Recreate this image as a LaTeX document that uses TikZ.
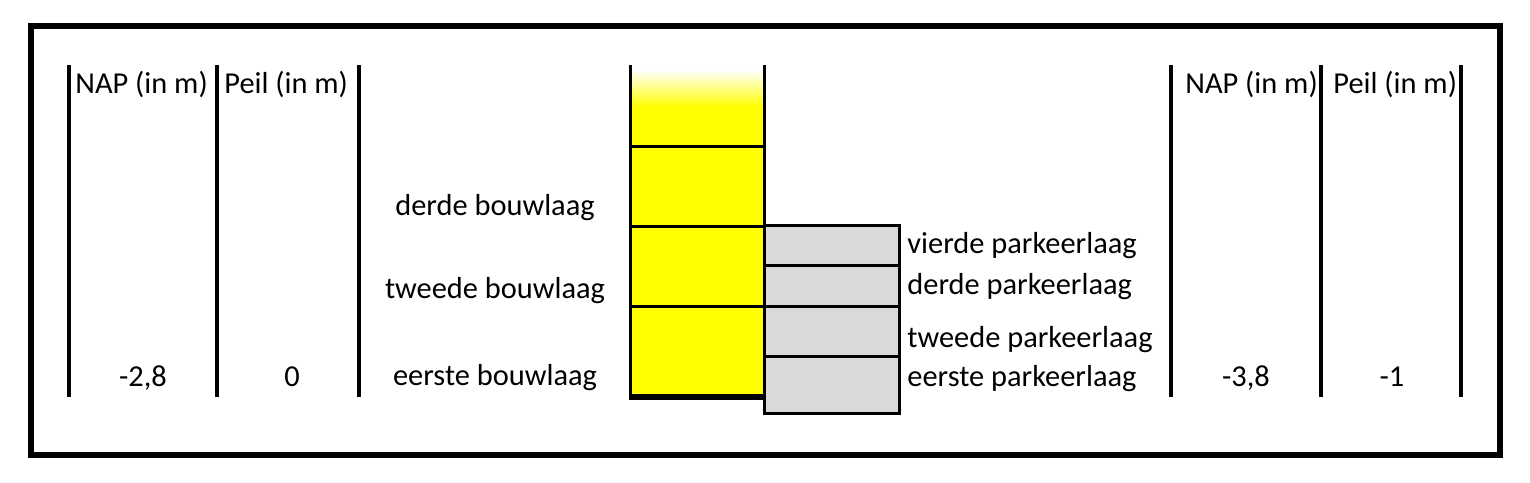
\documentclass[tikz,border=0pt]{standalone}
\usepackage{fontspec}
\setmainfont{Carlito}
\usetikzlibrary{positioning}
\definecolor{bouwgeel}{RGB}{255,255,0}
\definecolor{parkgrijs}{RGB}{217,217,217}

\begin{document}
\begin{tikzpicture}[
  x=0.5pt, y=-0.5pt,
  col/.style={line width=1.6pt},
  wall/.style={line width=1.5pt},
  lab/.style={font=\fontsize{15.2}{18}\selectfont, inner sep=0pt},
]
\useasboundingbox (0,0) rectangle (1530,482);

% --- column lines of the two tables
\def\yTop{65}
\def\yBot{397}
\foreach \x in {69,217,359,1171,1321,1461}
   \draw[col] (\x,\yTop) -- (\x,\yBot);

% --- outer frame
\draw[line width=2.6pt] (31,26) rectangle (1500,455);

% --- building: yellow column with fading top
\def\bL{630}
\def\bR{764}
\shade[top color=white, bottom color=bouwgeel] (\bL,70) rectangle (\bR,107);
\fill[bouwgeel] (\bL,107) rectangle (\bR,398);

% --- parking: grey block
\def\pR{899}
\fill[parkgrijs] (\bR,225) rectangle (\pR,413);

% --- walls and floors
\draw[wall] (\bL,\yTop) -- (\bL,400);
\draw[wall] (\bR,\yTop) -- (\bR,225);
\foreach \y in {146,226,306}
   \draw[wall] (\bL,\y) -- (\bR,\y);
\draw[line width=3pt] (\bL-0.75,397) -- (\bR,397);
\draw[wall] (\bR,225) rectangle (\pR,413);
\foreach \y in {265,306,356}
   \draw[wall] (\bR,\y) -- (\pR,\y);

% --- table headers
\node[lab, anchor=base west] (napL)  at (75,93)   {NAP (in m)};
\node[lab, anchor=base west] (peilL) at (224,93)  {Peil (in m)};
\node[lab, anchor=base west] (napR)  at (1185,93) {NAP (in m)};
\node[lab, anchor=base west] (peilR) at (1333,93) {Peil (in m)};

% --- levels
\node[lab, anchor=base] (napLv)  at (143,386)  {-2,8};
\node[lab, anchor=base] (peilLv) at (292,386)  {0};
\node[lab, anchor=base] (napRv)  at (1246,386) {-3,8};
\node[lab, anchor=base] (peilRv) at (1392,386) {-1};

% --- building floors
\node[lab, anchor=base] (bouw3) at (495,215) {derde bouwlaag};
\node[lab, anchor=base] (bouw2) at (495,298) {tweede bouwlaag};
\node[lab, anchor=base] (bouw1) at (495,385) {eerste bouwlaag};

% --- parking floors
\node[lab, anchor=base west] (park4) at (907,253) {vierde parkeerlaag};
\node[lab, anchor=base west] (park3) at (907,294) {derde parkeerlaag};
\node[lab, anchor=base west] (park2) at (907,347) {tweede parkeerlaag};
\node[lab, anchor=base west] (park1) at (907,386) {eerste parkeerlaag};

\end{tikzpicture}
\end{document}
